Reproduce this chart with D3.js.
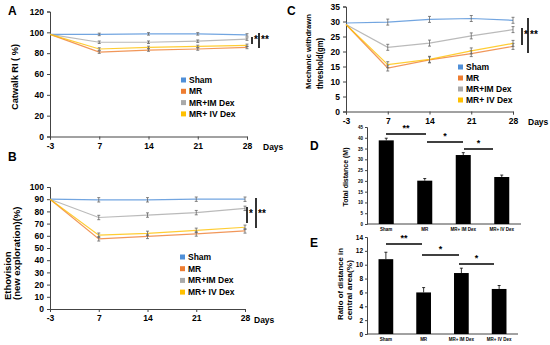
<!DOCTYPE html>
<html><head><meta charset="utf-8">
<script src="https://cdn.jsdelivr.net/npm/d3@7"></script>
<style>body{margin:0;background:#fff}svg{display:block;font-family:"Liberation Sans",Arial,sans-serif;font-weight:bold}</style>
</head><body><svg id="c" width="550" height="345"></svg>
<script>
const days = ["-3","7","14","21","28"];
const groups = ["Sham","MR","MR+IM Dex","MR+ IV Dex"];
const colors = ["#4f8fd8","#ee7d31","#a9a9a9","#ffc000"];

const catwalk = {
  "Sham":[98,98,98.5,98.5,97.5],
  "MR":[98,81,83,84,85.5],
  "MR+IM Dex":[98,90.5,90.5,91.5,93.5],
  "MR+ IV Dex":[98,84,85.5,86.5,87.5]
};
const catwalkErr = [0.8,1.2,1.2,1.2,1.2];
const etho = {
  "Sham":[90,89.5,89.5,90,90],
  "MR":[90,57.5,59.5,61.5,64],
  "MR+IM Dex":[90,75,77,79,82.5],
  "MR+ IV Dex":[90,60.5,62,64.5,67]
};
const ethoErr = [0.8,1.8,1.8,1.8,1.8];
const mech = {
  "Sham":[29.5,29.8,30.7,31.0,30.4],
  "MR":[29,14.5,17.2,19.3,21.7],
  "MR+IM Dex":[29,21.4,22.8,25.2,27.3],
  "MR+ IV Dex":[29,15.6,17.4,20.2,22.7]
};
const mechErr = [0.6,1.0,1.0,1.0,1.0];

const barCats = ["Sham","MR","MR+ IM Dex","MR+ IV Dex"];
const totalDist = [38.8,20.1,32.0,21.8];
const totalDistErr = [1.0,1.0,1.1,0.9];
const ratioCentral = [10.8,6.0,8.8,6.5];
const ratioCentralErr = [1.0,0.7,0.7,0.5];

const svg = d3.select("#c");
const axisCol = "#444";

function title(x,y,len,fs,txt,anchor){
  const t = svg.append("text").attr("transform",`translate(${x},${y}) rotate(-90)`)
    .attr("text-anchor",anchor||"start").attr("font-size",fs).text(txt);
  if(len) t.attr("textLength",len).attr("lengthAdjust","spacingAndGlyphs");
}

function lineChart(o){
  const g = svg.append("g");
  const x = d3.scalePoint().domain(days).range(o.xr);
  const y = d3.scaleLinear().domain(o.yd).range(o.yr);
  const ya = g.append("g").attr("transform",`translate(${o.xr[0]},0)`)
    .call(d3.axisLeft(y).tickValues(o.ticks).tickSize(3).tickPadding(3));
  ya.selectAll("text").attr("font-size",o.fs).attr("font-weight","bold").attr("fill","#000").attr("font-family","Liberation Sans, Arial");
  const xa = g.append("g").attr("transform",`translate(0,${o.yr[0]})`)
    .call(d3.axisBottom(x).tickSize(3).tickPadding(3));
  xa.selectAll("text").attr("font-size",o.fs).attr("font-weight","bold").attr("fill","#000").attr("font-family","Liberation Sans, Arial");
  [ya,xa].forEach(a=>{a.selectAll("path,line").attr("stroke",axisCol);});
  g.append("text").attr("x",o.daysX).attr("y",o.yr[0]+o.fs+5).attr("font-size",o.fs).text("Days");
  groups.forEach((k,i)=>{
    const vals = o.data[k];
    g.append("path").datum(vals)
      .attr("d",d3.line().x((d,j)=>x(days[j])).y(d=>y(d)))
      .attr("fill","none").attr("stroke",colors[i]).attr("stroke-width",1.2).attr("opacity",0.8);
    vals.forEach((v,j)=>{
      if(j===0) return;
      const e=o.err[j], cx=x(days[j]);
      g.append("line").attr("x1",cx).attr("x2",cx).attr("y1",y(v-e)).attr("y2",y(v+e)).attr("stroke","#666").attr("stroke-width",0.8);
      [v-e,v+e].forEach(w=>g.append("line").attr("x1",cx-1.5).attr("x2",cx+1.5).attr("y1",y(w)).attr("y2",y(w)).attr("stroke","#666").attr("stroke-width",0.8));
    });
  });
  groups.forEach((k,i)=>{
    const yy=o.leg[1]+i*o.legStep;
    g.append("rect").attr("x",o.leg[0]).attr("y",yy-2.5).attr("width",5).attr("height",5).attr("fill",colors[i]);
    g.append("text").attr("x",o.leg[0]+8).attr("y",yy).attr("dy","0.35em").attr("font-size",o.legFs).text(k);
  });
  const s=o.sig;
  g.append("line").attr("x1",s.x1).attr("x2",s.x1).attr("y1",s.a1).attr("y2",s.b1).attr("stroke","#000").attr("stroke-width",1.6);
  g.append("text").attr("x",s.x1+2).attr("y",s.ty).attr("dy","0.6em").attr("font-size",10).text("*");
  g.append("line").attr("x1",s.x2).attr("x2",s.x2).attr("y1",s.a2).attr("y2",s.b2).attr("stroke","#000").attr("stroke-width",1.6);
  g.append("text").attr("x",s.x2+2).attr("y",s.ty).attr("dy","0.6em").attr("font-size",10).text("**");
  return g;
}

// Panel A
lineChart({xr:[50,247],yr:[136.5,11.5],yd:[0,120],ticks:d3.range(0,121,20),fs:8.5,daysX:263,
  data:catwalk,err:catwalkErr,leg:[181,80],legStep:11.3,legFs:8.5,
  sig:{x1:252,a1:37,b1:44,x2:259,a2:33,b2:48,ty:37}});
svg.append("text").attr("x",8).attr("y",15).attr("font-size",12).text("A");
title(18,77,66,9.5,"Catwalk RI ( %)","middle");

// Panel B
lineChart({xr:[50,245],yr:[309,187],yd:[0,100],ticks:d3.range(0,101,10),fs:8.5,daysX:254,
  data:etho,err:ethoErr,leg:[180,257],legStep:11.7,legFs:8.5,
  sig:{x1:247,a1:207,b1:223,x2:256,a2:198,b2:228,ty:211}});
svg.append("text").attr("x",8).attr("y",161).attr("font-size",12).text("B");
title(11,300,null,9.5,"Ethovision");
title(20,300,null,9.5,"(new exploration)(%)");

// Panel C
lineChart({xr:[346,513],yr:[111.5,6.5],yd:[0,35],ticks:d3.range(0,36,5),fs:8.5,daysX:528,
  data:mech,err:mechErr,leg:[458,67],legStep:11,legFs:8.5,
  sig:{x1:522,a1:28,b1:45,x2:528,a2:18,b2:53,ty:32}});
svg.append("text").attr("x",287).attr("y",15).attr("font-size",12).text("C");
title(311,89,75,8,"Mechanic withdrawn");
title(323,89,51,8.5,"threshold(gm)");

function barChart(o){
  const g = svg.append("g");
  const x = d3.scaleBand().domain(barCats).range(o.xr).paddingInner(0.61).paddingOuter(0.305);
  const y = d3.scaleLinear().domain(o.yd).range(o.yr);
  const ya = g.append("g").attr("transform",`translate(${o.xr[0]},0)`)
    .call(d3.axisLeft(y).tickValues(o.ticks).tickSize(2).tickPadding(2));
  ya.selectAll("text").attr("font-size",o.tfs).attr("font-weight","bold").attr("fill","#000").attr("font-family","Liberation Sans, Arial");
  ya.selectAll("path,line").attr("stroke",axisCol);
  g.append("line").attr("x1",o.xr[0]).attr("x2",o.xr[1]).attr("y1",o.yr[0]).attr("y2",o.yr[0]).attr("stroke",axisCol);
  o.vals.forEach((v,i)=>{
    const cx = x(barCats[i])+x.bandwidth()/2;
    g.append("line").attr("x1",cx).attr("x2",cx).attr("y1",y(v)).attr("y2",y(v+o.err[i])).attr("stroke","#000").attr("stroke-width",0.8);
    g.append("line").attr("x1",cx-1.5).attr("x2",cx+1.5).attr("y1",y(v+o.err[i])).attr("y2",y(v+o.err[i])).attr("stroke","#000").attr("stroke-width",0.8);
    g.append("rect").attr("x",x(barCats[i])).attr("y",y(v)).attr("width",x.bandwidth()).attr("height",y(o.yd[0])-y(v)).attr("fill","#000");
    g.append("text").attr("x",cx).attr("y",o.yr[0]+6.5).attr("text-anchor","middle").attr("font-size",4.5).text(barCats[i]);
  });
  o.sig.forEach(s=>{
    g.append("line").attr("x1",s[0]).attr("x2",s[1]).attr("y1",s[2]).attr("y2",s[2]).attr("stroke","#000").attr("stroke-width",1.5);
    g.append("text").attr("x",(s[0]+s[1])/2).attr("y",s[2]-3).attr("text-anchor","middle").attr("font-size",9).text(s[3]);
  });
}

barChart({xr:[367,521],yr:[224,127],yd:[0,45],ticks:d3.range(0,46,5),tfs:4.5,vals:totalDist,err:totalDistErr,
  sig:[[386,426,134,"**"],[427,463,142,"*"],[464,493,149,"*"]]});
svg.append("text").attr("x",310).attr("y",150).attr("font-size",12).text("D");
title(348,177,59,7.5,"Total distance (M)","middle");

barChart({xr:[367,518],yr:[334,237],yd:[0,14],ticks:d3.range(0,15,2),tfs:6.5,vals:ratioCentral,err:ratioCentralErr,
  sig:[[386,422,244,"**"],[422,459,255,"*"],[459,494,264,"*"]]});
svg.append("text").attr("x",310).attr("y",247).attr("font-size",12).text("E");
title(343,320,72,8,"Ratio of distance in");
title(352,320,60,8,"central area(%)");
</script></body></html>
